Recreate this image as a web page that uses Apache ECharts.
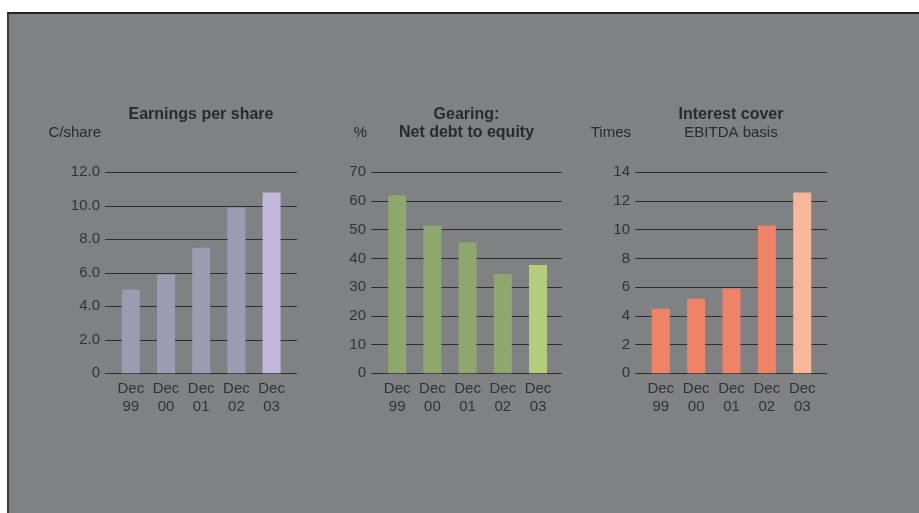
<!DOCTYPE html>
<html>
<head>
<meta charset="utf-8">
<script src="https://cdn.jsdelivr.net/npm/echarts@6/dist/echarts.min.js"></script>
<style>
  html, body { margin: 0; padding: 0; background: #ffffff; }
  #panel {
    position: absolute; left: 7px; top: 12px; width: 912px; height: 501px;
    background: #808183; border-top: 2px solid #232323; border-left: 2px solid #3a3a3a;
    box-sizing: border-box;
  }
  #chart { position: absolute; left: 0; top: 0; width: 919px; height: 513px; }
</style>
</head>
<body>
<div id="panel"></div>
<div id="chart"></div>
<script>
// Year-end categories shared by all three panels
const categories = ['Dec\n99', 'Dec\n00', 'Dec\n01', 'Dec\n02', 'Dec\n03'];

// Earnings per share (C/share)
const epsValues = [5.0, 5.9, 7.5, 9.9, 10.8];
const epsTicks = ['0', '2.0', '4.0', '6.0', '8.0', '10.0', '12.0'];

// Gearing: net debt to equity (%)
const gearingValues = [62.0, 51.5, 45.6, 34.6, 37.7];
const gearingTicks = ['0', '10', '20', '30', '40', '50', '60', '70'];

// Interest cover, EBITDA basis (times)
const coverValues = [4.5, 5.2, 5.9, 10.3, 12.6];
const coverTicks = ['0', '2', '4', '6', '8', '10', '12', '14'];

const FONT = '"Liberation Sans", Arial, Helvetica, sans-serif';
const TEXT = '#2a2a2a';
const LABEL = '#333333';
const GRID_LINE = '#2e2e2e';

const panels = [
  { values: epsValues, ticks: epsTicks, max: 12, interval: 2,
    frameLeft: 105, frameRight: 297, barLeft: 113.2, barRight: 289.2,
    color: '#9d9bb1', lastColor: '#c1b8dc',
    title: ['Earnings per share'], unit: 'C/share', sub: null },
  { values: gearingValues, ticks: gearingTicks, max: 70, interval: 10,
    frameLeft: 371, frameRight: 562, barLeft: 379.6, barRight: 555.6,
    color: '#8da76e', lastColor: '#b4cc7c',
    title: ['Gearing:', 'Net debt to equity'], unit: '%', sub: null },
  { values: coverValues, ticks: coverTicks, max: 14, interval: 2,
    frameLeft: 635, frameRight: 827, barLeft: 643.1, barRight: 819.9,
    color: '#ee8368', lastColor: '#f8b69b',
    title: ['Interest cover'], unit: 'Times', sub: 'EBITDA basis' }
];

const GRID_TOP = 172.3;
const GRID_HEIGHT = 201;

const grid = [], xAxis = [], yAxis = [], series = [], graphic = [];

panels.forEach((p, i) => {
  const frameIdx = i * 2, barIdx = i * 2 + 1;
  // frame grid: value labels and horizontal rules spanning the full width
  grid.push({ left: p.frameLeft, width: p.frameRight - p.frameLeft, top: GRID_TOP, height: GRID_HEIGHT });
  // bar grid: slightly inset category band
  grid.push({ left: p.barLeft, width: p.barRight - p.barLeft, top: GRID_TOP, height: GRID_HEIGHT });

  xAxis.push({ gridIndex: frameIdx, type: 'value', show: false, min: 0, max: 1 });
  xAxis.push({
    gridIndex: barIdx, type: 'category', data: categories,
    axisLine: { show: false }, axisTick: { show: false },
    axisLabel: { margin: 7, fontSize: 15, lineHeight: 18, color: LABEL, fontFamily: FONT, interval: 0 }
  });

  yAxis.push({
    gridIndex: frameIdx, type: 'value', min: 0, max: p.max, interval: p.interval,
    axisLine: { show: false }, axisTick: { show: false },
    axisLabel: {
      margin: 5, fontSize: 15, color: LABEL, fontFamily: FONT,
      formatter: v => p.ticks[Math.round(v / p.interval)]
    },
    splitLine: { show: true, lineStyle: { color: GRID_LINE, width: 1 } }
  });
  yAxis.push({ gridIndex: barIdx, type: 'value', min: 0, max: p.max, interval: p.interval, show: false,
    splitLine: { show: false } });

  series.push({
    type: 'bar', xAxisIndex: barIdx, yAxisIndex: barIdx, barWidth: 18, z: 3,
    data: p.values.map((v, k) => ({
      value: v, itemStyle: { color: k === p.values.length - 1 ? p.lastColor : p.color }
    }))
  });

  const cx = (p.frameLeft + p.frameRight) / 2;
  p.title.forEach((t, k) => {
    graphic.push({ type: 'text', x: cx, y: 115 + k * 18,
      style: { text: t, textAlign: 'center', textVerticalAlign: 'middle',
        font: 'bold 16px ' + FONT, fill: TEXT } });
  });
  if (p.sub) {
    graphic.push({ type: 'text', x: cx, y: 133,
      style: { text: p.sub, textAlign: 'center', textVerticalAlign: 'middle',
        font: '15px ' + FONT, fill: TEXT } });
  }
  graphic.push({ type: 'text', x: p.frameLeft - 4, y: 133,
    style: { text: p.unit, textAlign: 'right', textVerticalAlign: 'middle',
      font: '15px ' + FONT, fill: TEXT } });
});

const chart = echarts.init(document.getElementById('chart'), null, { renderer: 'canvas' });
chart.setOption({
  backgroundColor: 'transparent',
  animation: false,
  textStyle: { fontFamily: FONT },
  grid, xAxis, yAxis, series, graphic
});
</script>
</body>
</html>
